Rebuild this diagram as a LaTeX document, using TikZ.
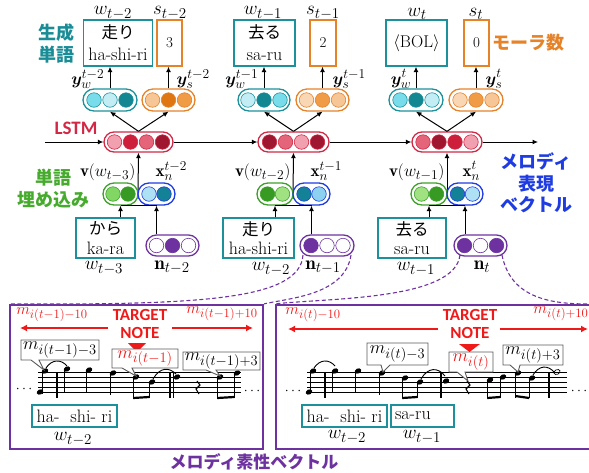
\RequirePackage{fix-cm}
\documentclass[tikz,border=0pt]{standalone}
\usepackage{fontspec}
\usepackage{bm}
\setsansfont{Carlito}
\newfontfamily\jp{Noto Sans CJK JP}
\usetikzlibrary{arrows.meta,shapes.misc,calc}
\DeclareMathSizes{15}{15}{12}{9}
\DeclareMathSizes{16}{16}{12.8}{10}
\DeclareMathSizes{17}{17}{13.5}{10}
\DeclareMathSizes{18}{18}{14.5}{11}
\DeclareMathSizes{19}{19}{15}{11}

\definecolor{tealC}{RGB}{28,145,155}
\definecolor{tealT}{RGB}{25,140,150}
\definecolor{cyA}{RGB}{120,220,235}
\definecolor{cyB}{RGB}{195,237,245}
\definecolor{tealD}{RGB}{18,135,145}
\definecolor{orC}{RGB}{230,130,40}
\definecolor{orL}{RGB}{247,198,150}
\definecolor{orL2}{RGB}{250,215,180}
\definecolor{orM}{RGB}{240,155,70}
\definecolor{orD}{RGB}{222,118,18}
\definecolor{redC}{RGB}{210,40,70}
\definecolor{rP}{RGB}{240,160,175}
\definecolor{rR}{RGB}{205,30,60}
\definecolor{rM}{RGB}{228,100,122}
\definecolor{rD}{RGB}{158,22,48}
\definecolor{grC}{RGB}{60,160,40}
\definecolor{grT}{RGB}{70,170,45}
\definecolor{gL}{RGB}{130,215,100}
\definecolor{gL2}{RGB}{160,225,130}
\definecolor{gD}{RGB}{55,155,35}
\definecolor{blC}{RGB}{30,60,225}
\definecolor{bL}{RGB}{175,225,245}
\definecolor{bM}{RGB}{140,210,240}
\definecolor{bT}{RGB}{20,130,150}
\definecolor{puC}{RGB}{110,50,160}
\definecolor{tRed}{RGB}{240,25,25}
\definecolor{grayC}{RGB}{90,90,90}

\newcommand\pillrow[9]{%
  \node[pill=#6,minimum width=#4pt,minimum height=#5pt] (#1) at (#2,#3) {};
  \foreach \cc [count=\ii] in {#9}
    \node[dot,fill=\cc,draw=#6] (#1-\ii) at ({#2+(\ii-#7)*#8},#3) {};
}
\newcommand\nh[2]{\fill[rotate around={25:(#1,#2)}] (#1,#2) ellipse [x radius=3.4pt,y radius=2.5pt];}
\newcommand\stm[3]{\draw[line width=0.7pt] (#1-2.8,#2) -- (#1-2.8,#3);}
\newcommand\jw[1]{{\jp\fontsize{16.5}{20}\selectfont #1}}

\begin{document}
\begin{tikzpicture}[x=1pt,y=-1pt,
  arr/.style={-{Latex[length=5.5pt,width=5pt]},line width=1pt},
  rarr/.style={-{Latex[length=7pt,width=7pt]},draw=tRed,line width=1.6pt},
  pill/.style={rounded rectangle,draw=#1,line width=1.3pt,fill=white,inner sep=0pt},
  dot/.style={circle,inner sep=0pt,minimum size=14.5pt,line width=0.6pt},
  wbox/.style={draw=tealC,line width=1.3pt,inner sep=0pt,align=center,font=\fontsize{18}{22}\selectfont},
  sbox/.style={draw=orC,line width=1.3pt,inner sep=0pt,font=\fontsize{15}{16}\selectfont},
  lab/.style={font=\fontsize{19}{20}\selectfont,inner sep=0.5pt},
  slab/.style={font=\fontsize{17}{18}\selectfont,inner sep=0.5pt},
  jlab/.style={font=\jp\bfseries\fontsize{18}{22}\selectfont,align=center,inner sep=0pt},
  tnote/.style={font=\sffamily\bfseries\fontsize{17}{18}\selectfont,text=tRed,align=center,inner sep=0pt},
  mlab/.style={font=\fontsize{16}{16}\selectfont,text=tRed,inner sep=0pt},
  clab/.style={font=\fontsize{18}{18}\selectfont,inner sep=0pt},
  callbox/.style={draw=grayC,fill=white,line width=0.9pt},
  pdash/.style={draw=puC,dash pattern=on 4pt off 2.5pt,line width=1.1pt},
  panel/.style={draw=puC,line width=2.3pt,inner sep=0pt},
  hbox/.style={draw=tealC,line width=1.3pt,inner sep=0pt,font=\fontsize{18}{20}\selectfont},
]
\useasboundingbox (0,0) rectangle (589,472);

% ---------- side labels ----------
\node[jlab,text=tealT] (gen) at (56,44) {生成\\単語};
\node[font=\sffamily\bfseries\fontsize{19}{20}\selectfont,text=redC,inner sep=0pt] (lstmlab) at (76,128) {LSTM};
\node[jlab,text=orC] (mora) at (528,43) {モーラ数};
\node[jlab,text=grT] (emb) at (53,189) {単語\\埋め込み};
\node[jlab,text=blC,font=\jp\bfseries\fontsize{18}{21.5}\selectfont] (mel) at (536,183) {メロディ\\表現\\ベクトル};
\node[jlab,text=puC,font=\jp\bfseries\fontsize{17}{20}\selectfont] (feat) at (254,462) {メロディ素性ベクトル};

% ---------- column 1 ----------
\node[wbox,minimum width=69pt,minimum height=46pt] (wb1) at (118,43) {\jw{走り}\\ha-shi-ri};
\node[sbox,minimum width=25pt,minimum height=46pt] (sb1) at (169.5,43) {3};
\pillrow{wp1}{110}{100}{54}{22}{tealC}{2}{16}{cyA,cyB,tealD}
\pillrow{sp1}{168.5}{100}{53}{22}{orC}{2}{16}{orL,orD,orM}
\pillrow{ls1}{138.5}{142}{69}{20}{redC}{2.5}{16}{rP,rR,rM,rD}
\draw[arr] (138,194) -- (ls1.south);
\pillrow{gp1}{120.5}{194}{35}{22}{grC}{1.5}{15}{gL,gD}
\pillrow{bp1}{156.5}{194}{37}{22}{blC}{1.5}{15}{bL,bT}
\draw[line width=1pt] (gp1.south) -- (bp1.south);
\node[wbox,minimum width=59pt,minimum height=40pt,font=\fontsize{18}{19.5}\selectfont] (ib1) at (105.5,238) {\jw{から}\\ka-ra};
\pillrow{np1}{172.5}{245.5}{53}{21}{puC}{2}{16}{white,puC,white}

% ---------- column 2 ----------
\node[wbox,minimum width=61pt,minimum height=46pt] (wb2) at (264.5,43) {\jw{去る}\\sa-ru};
\node[sbox,minimum width=26pt,minimum height=46pt] (sb2) at (323,43) {2};
\pillrow{wp2}{264}{100}{52}{22}{tealC}{2}{16}{cyB,tealD,cyA}
\pillrow{sp2}{322.5}{100}{53}{22}{orC}{2}{16}{orL2,orM,orL}
\pillrow{ls2}{293.5}{142}{71}{20}{redC}{2.5}{16}{rD,rM,rP,rD}
\draw[arr] (293,194) -- (ls2.south);
\pillrow{gp2}{275}{194}{36}{22}{grC}{1.5}{15}{gD,gL2}
\pillrow{bp2}{311.5}{194}{37}{22}{blC}{1.5}{15}{bT,bM}
\draw[line width=1pt] (gp2.south) -- (bp2.south);
\node[wbox,minimum width=71pt,minimum height=40pt,font=\fontsize{18}{19.5}\selectfont] (ib2) at (258.5,238) {\jw{走り}\\ha-shi-ri};
\pillrow{np2}{327}{245.5}{54}{21}{puC}{2}{16}{puC,white,white}

% ---------- column 3 ----------
\node[wbox,minimum width=61pt,minimum height=46pt,font=\fontsize{17}{20}\selectfont] (wb3) at (416.5,43) {$\langle$BOL$\rangle$};
\node[sbox,minimum width=25pt,minimum height=46pt] (sb3) at (476.5,43) {0};
\pillrow{wp3}{416}{100}{54}{22}{tealC}{2}{16}{cyA,tealD,cyB}
\pillrow{sp3}{476}{100}{54}{22}{orC}{2}{16}{orL2,orM,orL}
\pillrow{ls3}{447}{142}{70}{20}{redC}{2.5}{16}{rM,rD,rR,rP}
\draw[arr] (447,194) -- (ls3.south);
\pillrow{gp3}{429}{194}{36}{22}{grC}{1.5}{15}{gL2,gD}
\pillrow{bp3}{465}{194}{36}{22}{blC}{1.5}{15}{bT,bL}
\draw[line width=1pt] (gp3.south) -- (bp3.south);
\node[wbox,minimum width=68pt,minimum height=40pt,font=\fontsize{18}{19.5}\selectfont] (ib3) at (412,238) {\jw{去る}\\sa-ru};
\pillrow{np3}{480.5}{245.5}{53}{21}{puC}{2}{16}{puC,white,puC}

% ---------- arrows ----------
\coordinate (in0) at (45,142);
\coordinate (out3) at (538,142);
\draw[arr] (in0) -- (ls1.west);
\draw[arr] (ls1.east) -- (ls2.west);
\draw[arr] (ls2.east) -- (ls3.west);
\draw[arr] (ls3.east) -- (out3);
\foreach \k in {1,2,3}{
  \draw[arr] (wp\k.north) -- (wp\k.north |- wb\k.south);
  \draw[arr] (sp\k.north) -- (sp\k.north |- sb\k.south);
  \draw[arr] (ls\k.north) -- (wp\k.south);
  \draw[arr] (ls\k.north) -- (sp\k.south);
  \draw[arr] (gp\k.south |- ib\k.north) -- (gp\k.south);
  \draw[arr] (bp\k.south |- np\k.north) -- (bp\k.south);
}

% ---------- math labels ----------
\node[lab,anchor=south] (lw1) at (113,20) {$w_{t-2}$};
\node[lab,anchor=south] (ls1l) at (170,20) {$s_{t-2}$};
\node[lab,anchor=south] (lw2) at (263,20) {$w_{t-1}$};
\node[lab,anchor=south] (ls2l) at (323,20) {$s_{t-1}$};
\node[lab,anchor=south] (lw3) at (417,20) {$w_{t}$};
\node[lab,anchor=south] (ls3l) at (476,20) {$s_{t}$};

\node[slab,anchor=east] (yw1) at (105,79) {$\bm{y}_w^{t-2}$};
\node[slab,anchor=west] (ys1) at (176,79) {$\bm{y}_s^{t-2}$};
\node[slab,anchor=east] (yw2) at (259,79) {$\bm{y}_w^{t-1}$};
\node[slab,anchor=west] (ys2) at (332,79) {$\bm{y}_s^{t-1}$};
\node[slab,anchor=east] (yw3) at (412,79) {$\bm{y}_w^{t}$};
\node[slab,anchor=west] (ys3) at (485,79) {$\bm{y}_s^{t}$};

\node[slab,anchor=east] (v1) at (136,172) {$\mathbf{v}(w_{t-3})$};
\node[slab,anchor=west] (x1) at (155,171) {$\mathbf{x}_n^{t-2}$};
\node[slab,anchor=east] (v2) at (291,172) {$\mathbf{v}(w_{t-2})$};
\node[slab,anchor=west] (x2) at (310,171) {$\mathbf{x}_n^{t-1}$};
\node[slab,anchor=east] (v3) at (445,172) {$\mathbf{v}(w_{t-1})$};
\node[slab,anchor=west] (x3) at (462,171) {$\mathbf{x}_n^{t}$};

\node[lab] (bw1) at (104,268) {$w_{t-3}$};
\node[lab] (bn1) at (172,267) {$\mathbf{n}_{t-2}$};
\node[lab] (bw2) at (271,269) {$w_{t-2}$};
\node[lab] (bn2) at (323,267) {$\mathbf{n}_{t-1}$};
\node[lab] (bw3) at (416,269) {$w_{t-1}$};
\node[lab] (bn3) at (482,267) {$\mathbf{n}_{t}$};

% ---------- panels ----------
\node[panel,minimum width=253pt,minimum height=144pt] (pan1) at (136.5,377) {};
\node[panel,minimum width=316pt,minimum height=144pt] (pan2) at (434,377) {};

\coordinate (n2l) at (303,255);
\coordinate (n2r) at (351,255);
\coordinate (n3l) at (460,255);
\coordinate (n3r) at (502,255);
\draw[pdash] (n2l) .. controls (300,300) and (200,305) .. (pan1.north west);
\draw[pdash] (n2r) .. controls (345,295) and (290,298) .. (pan1.north east);
\draw[pdash] (n3l) .. controls (455,300) and (330,298) .. (pan2.north west);
\draw[pdash] (n3r) .. controls (510,295) and (545,305) .. (pan2.north east);

% ---------- left panel content ----------
\node[mlab] (ml1) at (52,315) {$m_{i(t-1)-10}$};
\node[mlab] (mr1) at (222,314) {$m_{i(t-1)+10}$};
\node[tnote] (tn1) at (140,324) {TARGET\\NOTE};
\coordinate (a1s) at (108,328); \coordinate (a1e) at (20,328);
\coordinate (a2s) at (172,328); \coordinate (a2e) at (253,328);
\draw[rarr] (a1s) -- (a1e);
\draw[rarr] (a2s) -- (a2e);
\fill[tRed] (128,343) -- (146,343) -- (137,352) -- cycle;

% staff left
\foreach \yy in {372,377,382,387,392} \draw[line width=0.7pt] (38,\yy) -- (241,\yy);
\nh{40}{392} \nh{45}{371} \draw[line width=0.7pt] (42.5,371) -- (42.5,394);
\draw[line width=2pt] (57,372) -- (57,398);
\nh{67}{369} \stm{67}{369}{392}
\nh{89}{370} \stm{89}{370}{392}
\nh{113}{373} \stm{113}{373}{395}
\nh{136}{377} \stm{136}{377}{398}
\nh{152}{382} \stm{152}{382}{398}
\draw[line width=2.2pt] (133.2,398) -- (149.2,397);
\draw[line width=0.9pt] (46,368) .. controls (52,359) and (61,359) .. (67,366);
\draw[line width=0.9pt] (153,379) .. controls (160,367) and (169,367) .. (176,374);
\draw[line width=2pt] (170,372) -- (170,398);
\draw[line width=0.7pt] (173.5,372) -- (173.5,398);
\nh{177}{377}
\draw[line width=1.1pt] (197,381) -- (200,385) -- (196,389) -- (199,394);
\nh{220}{377} \stm{220}{377}{398}
\nh{237}{373} \stm{237}{373}{398}
\draw[line width=2.2pt] (217.2,398) -- (234.2,397);
\node[font=\fontsize{14}{14}\selectfont,inner sep=0pt] (d1) at (24,389) {$\cdots$};
\node[font=\fontsize{14}{14}\selectfont,inner sep=0pt] (d2) at (252,391) {$\cdots$};

% callouts left
\draw[callbox] (21,340) -- (99,340) -- (99,360) -- (39,360) -- (44,370) -- (31,360) -- (21,360) -- cycle;
\node[clab] (cA) at (60,350) {$m_{i(t-1)-3}$};
\draw[callbox] (112,349) -- (178,349) -- (178,368) -- (132,368) -- (136,376) -- (122,368) -- (112,368) -- cycle;
\node[clab,text=tRed] (cB) at (145,358.5) {$m_{i(t-1)}$};
\draw[callbox] (183,352) -- (260,352) -- (260,370) -- (216,370) -- (220,376) -- (206,370) -- (183,370) -- cycle;
\node[clab] (cC) at (221.5,361) {$m_{i(t-1)+3}$};

\node[hbox,minimum width=85pt,minimum height=22pt] (hb1) at (74.5,416) {ha-\ \ shi- ri};
\node[lab] (pw1) at (73,439) {$w_{t-2}$};

% ---------- right panel content ----------
\node[mlab] (ml2) at (313,315) {$m_{i(t)-10}$};
\node[mlab] (mr2) at (561,314) {$m_{i(t)+10}$};
\node[tnote] (tn2) at (470,324) {TARGET\\NOTE};
\coordinate (b1s) at (438,329); \coordinate (b1e) at (288,329);
\coordinate (b2s) at (500,329); \coordinate (b2e) at (588,329);
\draw[rarr] (b1s) -- (b1e);
\draw[rarr] (b2s) -- (b2e);
\fill[tRed] (459,344) -- (480,344) -- (469.5,352) -- cycle;

\foreach \yy in {372,377,382,387,392} \draw[line width=0.7pt] (307,\yy) -- (567,\yy);
\nh{309}{392} \nh{313}{371} \draw[line width=0.7pt] (310.5,371) -- (310.5,394);
\draw[line width=2pt] (325,372) -- (325,398);
\draw[line width=0.9pt] (314,368) .. controls (320,359) and (329,359) .. (335,366);
\nh{335}{371} \stm{335}{371}{392}
\nh{358}{371} \stm{358}{371}{392}
\nh{382}{373} \stm{382}{373}{395}
\nh{405}{378} \stm{405}{378}{398}
\nh{420}{382} \stm{420}{382}{398}
\draw[line width=2.2pt] (402.2,398) -- (417.2,397);
\draw[line width=0.9pt] (421,379) .. controls (428,367) and (438,367) .. (445,376);
\draw[line width=2pt] (441,372) -- (441,398);
\nh{446}{381}
\draw[line width=1.1pt] (467,381) -- (470,385) -- (466,389) -- (469,394);
\nh{490}{380} \stm{490}{380}{398}
\nh{503}{377} \stm{503}{377}{398}
\draw[line width=2.2pt] (487.2,398) -- (500.2,397);
\nh{518}{373} \stm{518}{373}{398}
\nh{532}{378} \stm{532}{378}{398}
\draw[line width=2.2pt] (515.2,396) -- (529.2,398);
\draw[line width=0.9pt] (533,375) .. controls (539,365) and (548,365) .. (554,372);
\draw[line width=2pt] (549,372) -- (549,398);
\draw[line width=0.7pt,rotate around={25:(557,372)}] (557,372) ellipse [x radius=3.2pt,y radius=2.3pt];
\node[font=\fontsize{14}{14}\selectfont,inner sep=0pt] (d3) at (293,391) {$\cdots$};
\node[font=\fontsize{14}{14}\selectfont,inner sep=0pt] (d4) at (579,391) {$\cdots$};

\draw[callbox] (367,343) -- (428,343) -- (428,365) -- (390,365) -- (383,372) -- (381,365) -- (367,365) -- cycle;
\node[clab] (cD) at (397.5,354) {$m_{i(t)-3}$};
\draw[callbox] (449,352) -- (493,352) -- (493,372) -- (465,372) -- (468,381) -- (457,372) -- (449,372) -- cycle;
\node[clab,text=tRed] (cE) at (471,362) {$m_{i(t)}$};
\draw[callbox] (503,345) -- (563,345) -- (563,365) -- (520,365) -- (518,372) -- (510,365) -- (503,365) -- cycle;
\node[clab] (cF) at (533,355) {$m_{i(t)+3}$};

\node[hbox,minimum width=85pt,minimum height=22pt] (hb2) at (344.5,416) {ha-\ \ shi- ri};
\node[hbox,minimum width=63pt,minimum height=22pt,text width=55pt,inner xsep=4pt,align=left] (sr2) at (422.5,416) {sa-ru};
\node[lab] (pw2) at (347,437) {$w_{t-2}$};
\node[lab] (pw3) at (422,437) {$w_{t-1}$};
\end{tikzpicture}
\end{document}
